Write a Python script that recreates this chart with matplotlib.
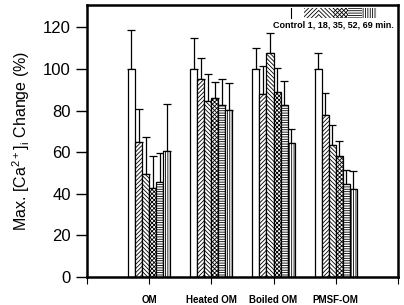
import numpy as np
import matplotlib.pyplot as plt
from matplotlib.patches import Rectangle

plt.rcParams['font.family'] = ['Liberation Sans', 'DejaVu Sans']
plt.rcParams['mathtext.default'] = 'regular'
plt.rcParams['hatch.linewidth'] = 0.6

groups = ['OM', 'Heated OM', 'Boiled OM', 'PMSF-OM']
series_names = ['Control', '1', '18', '35', '52', '69']

# bar heights per time point (one value per group)
control = [100, 100, 100, 100]
min1 = [65, 95, 88, 78]
min18 = [49.5, 84.5, 107.5, 63.5]
min35 = [43, 86, 88.8, 58.3]
min52 = [45.5, 82.5, 82.5, 44.7]
min69 = [60.5, 80.5, 64.5, 42.2]

# upper end of error bars
control_top = [119, 115, 110, 107.5]
min1_top = [81, 105.5, 101.6, 88.3]
min18_top = [67.5, 97.5, 117.5, 73]
min35_top = [58, 94, 100.6, 65.2]
min52_top = [59.5, 95, 94.4, 51.4]
min69_top = [83, 93.5, 71.2, 51]

values = [control, min1, min18, min35, min52, min69]
tops = [control_top, min1_top, min18_top, min35_top, min52_top, min69_top]
hatches = ['', '////////', '\\\\\\\\\\\\\\\\', 'xxxxxxxx', '-------', '|||||||']

fig = plt.figure(figsize=(4.04, 3.05), dpi=100)
ax = fig.add_axes([0.215, 0.092, 0.770, 0.893])

x = np.arange(1, len(groups) + 1)
w = 0.113
for k, (vals, tp, h) in enumerate(zip(values, tops, hatches)):
    pos = x + (k - 2.5) * w
    vals = np.array(vals)
    err = np.array(tp) - vals
    ax.bar(pos, vals, width=w, color='white', edgecolor='black',
           linewidth=0.9, hatch=h, zorder=2)
    ax.errorbar(pos, vals, yerr=[np.zeros_like(err), err], fmt='none',
                ecolor='black', elinewidth=0.9, capsize=3, capthick=0.9,
                zorder=1)

ax.set_xlim(0, 5)
ax.set_ylim(0, 131)
ax.set_yticks(range(0, 121, 20))
ax.set_xticks(range(0, 6))
ax.set_xticklabels([''] + groups + [''], fontsize=7, fontweight='bold')
ax.tick_params(axis='y', labelsize=12, direction='out', length=8, width=1)
ax.tick_params(axis='x', direction='out', length=5, width=0.8, pad=8)
for s in ax.spines.values():
    s.set_linewidth(1.8)
ax.set_ylabel('Max. [Ca$^{2+}$]$_i$ Change (%)', fontsize=11.5, labelpad=8)

# legend strip in the top right corner
ax.plot([0.656, 0.656], [0.949, 0.989], transform=ax.transAxes,
        color='black', lw=0.8, clip_on=False)
x0 = 0.698
pw = 0.047
for h in hatches[1:]:
    ax.add_patch(Rectangle((x0, 0.949), pw, 0.04, transform=ax.transAxes,
                           facecolor='white', edgecolor='black', hatch=h,
                           linewidth=0, zorder=3))
    x0 += pw
ax.text(0.985, 0.926, 'Control 1, 18, 35, 52, 69 min.', transform=ax.transAxes,
        ha='right', va='center', fontsize=6.5, fontweight='bold')

fig.savefig('out.png', dpi=100)
